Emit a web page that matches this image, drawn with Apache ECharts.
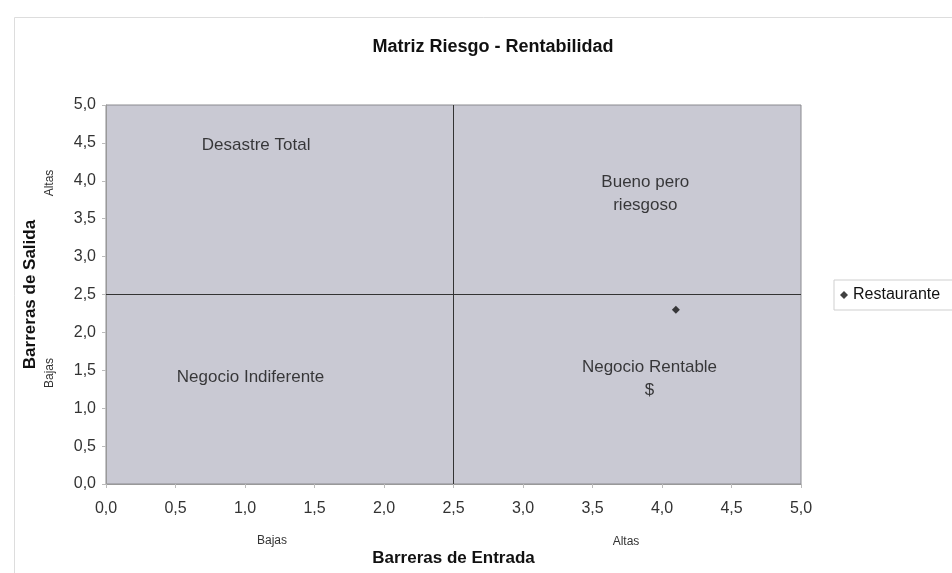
<!DOCTYPE html>
<html>
<head>
<meta charset="utf-8">
<script src="https://cdn.jsdelivr.net/npm/echarts@6/dist/echarts.min.js"></script>
<style>html,body{margin:0;padding:0;background:#fff;}#c{width:952px;height:573px;}</style>
</head>
<body>
<div id="c"></div>
<script>
var seriesName = 'Restaurante';
var points = [[4.1, 2.3]];
var quadrantSplitX = 2.5;
var quadrantSplitY = 2.5;
var quadrantLabels = ['Desastre Total', 'Bueno pero\nriesgoso', 'Negocio Indiferente', 'Negocio Rentable\n$'];
var quadrantLabelPos = [[1.08, 4.47], [3.88, 3.83], [1.04, 1.41], [3.91, 1.39]];

var font = '"Liberation Sans", Arial, sans-serif';
function fmt(v){ return v.toFixed(1).replace('.', ','); }

var chart = echarts.init(document.getElementById('c'));
chart.setOption({
  animation: false,
  backgroundColor: '#fff',
  textStyle: {fontFamily: font},
  title: {
    text: 'Matriz Riesgo - Rentabilidad',
    left: 488, top: 33, textAlign: 'center',
    textStyle: {fontSize: 18, fontWeight: 'bold', color: '#111', fontFamily: font}
  },
  legend: {
    data: [{name: seriesName, icon: 'diamond'}],
    left: 834, top: 280,
    orient: 'vertical',
    itemWidth: 8, itemHeight: 8, itemGap: 4,
    padding: [7, 20, 7, 6],
    borderColor: '#cfcfcf', borderWidth: 1,
    textStyle: {fontSize: 16, color: '#111', fontFamily: font}
  },
  grid: {left: 106, right: 151, top: 105, bottom: 89, show: true, backgroundColor: '#c9c9d3', borderColor: '#8a8a8f', borderWidth: 1},
  xAxis: {
    type: 'value', min: 0, max: 5, interval: 0.5,
    name: 'Barreras de Entrada', nameLocation: 'middle', nameGap: 66,
    nameTextStyle: {fontSize: 17, fontWeight: 'bold', color: '#111', fontFamily: font},
    axisLine: {show: true, lineStyle: {color: '#999'}},
    axisTick: {show: true, length: 4, lineStyle: {color: '#bbb'}},
    axisLabel: {formatter: fmt, fontSize: 16, color: '#333', margin: 17},
    splitLine: {show: false}
  },
  yAxis: {
    type: 'value', min: 0, max: 5, interval: 0.5,
    name: 'Barreras de Salida', nameLocation: 'middle', nameGap: 67, nameRotate: 90,
    nameTextStyle: {fontSize: 17, fontWeight: 'bold', color: '#111', fontFamily: font},
    axisLine: {show: true, lineStyle: {color: '#999'}},
    axisTick: {show: true, length: 4, lineStyle: {color: '#bbb'}},
    axisLabel: {formatter: fmt, fontSize: 16, color: '#333', margin: 10},
    splitLine: {show: false}
  },
  graphic: [
    {type: 'rect', left: 12, top: 15, shape: {width: 960, height: 580}, style: {fill: 'none', stroke: '#dddddd', lineWidth: 1}, silent: true},
    {type: 'text', x: 50, y: 183, rotation: Math.PI / 2, style: {text: 'Altas', fontSize: 12, fill: '#333', fontFamily: font, align: 'center', verticalAlign: 'middle'}},
    {type: 'text', x: 50, y: 373, rotation: Math.PI / 2, style: {text: 'Bajas', fontSize: 12, fill: '#333', fontFamily: font, align: 'center', verticalAlign: 'middle'}},
    {type: 'text', x: 272, y: 541, style: {text: 'Bajas', fontSize: 12, fill: '#333', fontFamily: font, align: 'center', verticalAlign: 'middle'}},
    {type: 'text', x: 626, y: 542, style: {text: 'Altas', fontSize: 12, fill: '#333', fontFamily: font, align: 'center', verticalAlign: 'middle'}}
  ],
  series: [
    {
      name: seriesName,
      type: 'scatter',
      symbol: 'diamond',
      symbolSize: 8,
      itemStyle: {color: '#111'},
      data: points,
      z: 5,
      markLine: {
        silent: true, symbol: 'none', label: {show: false},
        lineStyle: {color: '#333', width: 1, type: 'solid'},
        data: [{xAxis: quadrantSplitX}, {yAxis: quadrantSplitY}]
      }
    },
    {
      name: 'labels',
      type: 'scatter',
      symbolSize: 0,
      silent: true,
      data: quadrantLabelPos.map(function(p, i){ return {value: p, label: {formatter: quadrantLabels[i]}}; }),
      label: {show: true, position: 'inside', fontSize: 17, color: '#111', lineHeight: 23, align: 'center', fontFamily: font}
    }
  ]
});
</script>
</body>
</html>
